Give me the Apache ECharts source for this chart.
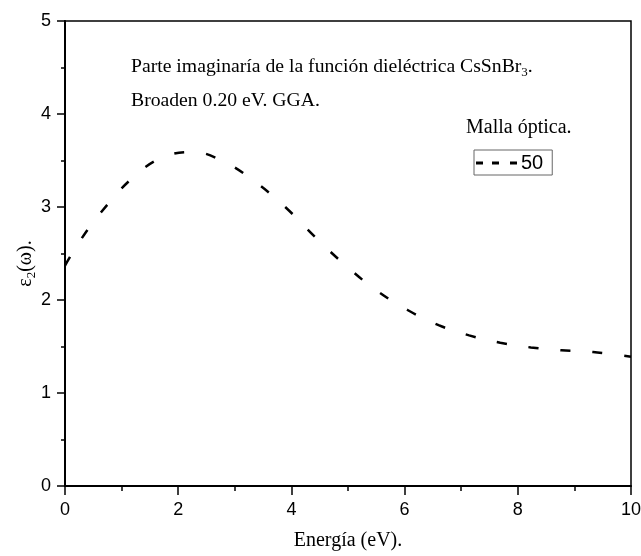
<!DOCTYPE html>
<html>
<head>
<meta charset="utf-8">
<script src="https://cdn.jsdelivr.net/npm/echarts@6/dist/echarts.min.js"></script>
<style>
	html, body { margin: 0; padding: 0; background: #fff; }
	#epsChart { width: 641px; height: 556px; }
</style>
</head>
<body>
<div id="epsChart"></div>
<script>
// datos
var energia = [0, 0.27, 0.62, 1.17, 1.71, 2.26, 2.8, 3.36, 3.89, 4.43, 4.96, 5.51, 6.06, 6.6, 7.14, 7.69, 8.23, 8.77, 9.33, 10];
var eps2 = [2.37, 2.64, 2.93, 3.30, 3.53, 3.59, 3.49, 3.27, 3.00, 2.67, 2.37, 2.10, 1.89, 1.73, 1.62, 1.54, 1.49, 1.46, 1.44, 1.39];
var serieNombre = '50';
var xTicks = [0, 2, 4, 6, 8, 10];
var yTicks = [0, 1, 2, 3, 4, 5];

window.onload = function(){
	initPage();
};

function initPage(){
	var myChart = echarts.init(document.getElementById("epsChart"));
	var seriesData = [];
	for(var i=0;i<energia.length;i++){
		seriesData[i] = [energia[i], eps2[i]];
	}
	var serif = 'Liberation Serif';
	var sans = '"Liberation Sans Narrow", "Liberation Sans"';
	//
	var option = {
		animation: false,
		backgroundColor: '#fff',
		title: [
			{
				text: 'Parte imaginaría de la función dieléctrica CsSnBr{sub|3}.',
				left: 126, top: 49,
				textStyle: {
					fontFamily: serif, fontSize: 19.7, fontWeight: 'normal', color: '#000',
					rich: { sub: { fontFamily: serif, fontSize: 13, padding: [12, 0, 0, 0], color: '#000' } }
				}
			},
			{
				text: 'Broaden 0.20 eV. GGA.',
				left: 126, top: 86,
				textStyle: { fontFamily: serif, fontSize: 19.7, fontWeight: 'normal', color: '#000' }
			},
			{
				text: 'Malla óptica.',
				left: 461, top: 113,
				textStyle: { fontFamily: serif, fontSize: 20, fontWeight: 'normal', color: '#000' }
			}
		],
		legend: {
			data: [serieNombre],
			left: 474, top: 150,
			orient: 'vertical',
			// icono de linea discontinua
			icon: 'path://M0,0h7v3h-7z M16,0h7v3h-7z M34,0h7v3h-7z',
			itemWidth: 41, itemHeight: 3, itemGap: 0,
			padding: [3, 9, 2, 2],
			borderColor: '#666', borderWidth: 1,
			itemStyle: { color: '#000' },
			textStyle: { fontFamily: sans, fontSize: 20, color: '#000', padding: [0, 0, 0, -1] }
		},
		grid: {
			left: 65, right: 10, top: 21, bottom: 70,
			outerBoundsMode: 'none',
			show: true, borderColor: '#000', borderWidth: 1.5
		},
		xAxis: {
			type: 'value',
			min: 0, max: 10, interval: 2,
			name: 'Energía (eV).',
			nameLocation: 'middle', nameGap: 45,
			nameMoveOverlap: false,
			nameTextStyle: { fontFamily: serif, fontSize: 20, color: '#000' },
			axisLine: { show: true, lineStyle: { color: '#000', width: 2 } },
			axisTick: { show: true, length: 9, lineStyle: { color: '#000', width: 1.5 } },
			minorTick: { show: true, splitNumber: 2, length: 5, lineStyle: { color: '#000', width: 1.5 } },
			axisLabel: {
				fontFamily: sans, fontSize: 18, color: '#000', margin: 15,
				formatter: function(v){ return xTicks.indexOf(v) >= 0 ? String(v) : ''; }
			},
			splitLine: { show: false }
		},
		yAxis: {
			type: 'value',
			min: 0, max: 5, interval: 1,
			name: '{eps|ε}{sub|2}{eps|(ω).}',
			nameLocation: 'middle', nameGap: 27, nameRotate: 90,
			nameMoveOverlap: false,
			nameTextStyle: {
				fontFamily: serif, fontSize: 20, color: '#000', padding: [0, 20, 0, 0],
				rich: {
					eps: { fontFamily: serif, fontSize: 20, color: '#000' },
					sub: { fontFamily: serif, fontSize: 13, color: '#000', padding: [12, 0, 0, 0] }
				}
			},
			axisLine: { show: true, lineStyle: { color: '#000', width: 2 } },
			axisTick: { show: true, length: 8, lineStyle: { color: '#000', width: 1.5 } },
			minorTick: { show: true, splitNumber: 2, length: 4, lineStyle: { color: '#000', width: 1.5 } },
			axisLabel: {
				fontFamily: sans, fontSize: 18, color: '#000', margin: 14,
				formatter: function(v){ return yTicks.indexOf(v) >= 0 ? String(v) : ''; }
			},
			splitLine: { show: false }
		},
		series: [
			{
				name: serieNombre,
				type: 'line',
				data: seriesData,
				smooth: 0.4,
				showSymbol: false,
				symbol: 'none',
				lineStyle: { color: '#000', width: 2.5, type: [10, 22] },
				itemStyle: { color: '#000' }
			}
		]
	};
	myChart.setOption(option);
}
</script>
</body>
</html>
